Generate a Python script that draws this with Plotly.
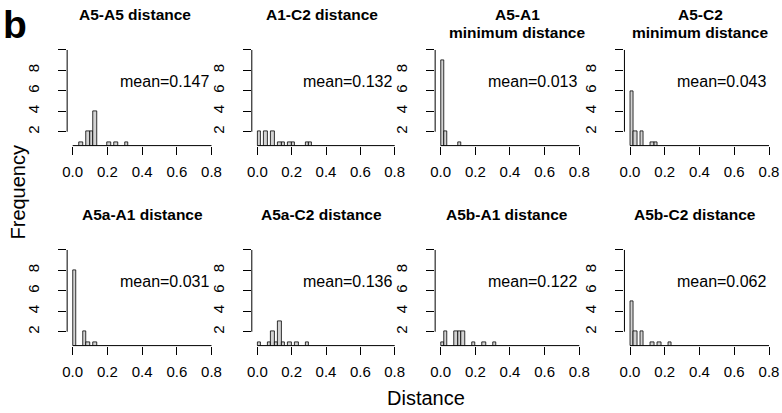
import plotly.graph_objects as go

# ---------------- data ----------------
bin_width = 0.02
x_ticks = [0.0, 0.2, 0.4, 0.6, 0.8]
x_tick_labels = ["0.0", "0.2", "0.4", "0.6", "0.8"]
y_ticks = [2, 4, 6, 8, 10]
y_tick_labels = ["2", "4", "6", "8", ""]

titles = [
    ["A5-A5 distance"],
    ["A1-C2 distance"],
    ["A5-A1", "minimum distance"],
    ["A5-C2", "minimum distance"],
    ["A5a-A1 distance"],
    ["A5a-C2 distance"],
    ["A5b-A1 distance"],
    ["A5b-C2 distance"],
]
means = ["mean=0.147", "mean=0.132", "mean=0.013", "mean=0.043",
         "mean=0.031", "mean=0.136", "mean=0.122", "mean=0.062"]

a5_a5_bins = [0.04, 0.08, 0.10, 0.12, 0.20, 0.24, 0.30]
a5_a5_counts = [1, 2, 2, 4, 1, 1, 1]
a1_c2_bins = [0.00, 0.04, 0.08, 0.12, 0.14, 0.18, 0.20, 0.28, 0.30]
a1_c2_counts = [2, 2, 2, 1, 1, 1, 1, 1, 1]
a5_a1_min_bins = [0.00, 0.02, 0.10]
a5_a1_min_counts = [9, 2, 1]
a5_c2_min_bins = [0.00, 0.02, 0.06, 0.12, 0.14]
a5_c2_min_counts = [6, 2, 2, 1, 1]
a5a_a1_bins = [0.00, 0.06, 0.08, 0.12]
a5a_a1_counts = [8, 2, 1, 1]
a5a_c2_bins = [0.00, 0.06, 0.08, 0.10, 0.12, 0.14, 0.18, 0.22, 0.28]
a5a_c2_counts = [1, 1, 2, 1, 3, 1, 1, 1, 1]
a5b_a1_bins = [0.00, 0.02, 0.08, 0.10, 0.12, 0.18, 0.24, 0.30]
a5b_a1_counts = [1, 2, 2, 2, 2, 1, 1, 1]
a5b_c2_bins = [0.00, 0.02, 0.06, 0.12, 0.16, 0.22]
a5b_c2_counts = [5, 2, 2, 1, 1, 1]

panel_bins = [a5_a5_bins, a1_c2_bins, a5_a1_min_bins, a5_c2_min_bins,
              a5a_a1_bins, a5a_c2_bins, a5b_a1_bins, a5b_c2_bins]
panel_counts = [a5_a5_counts, a1_c2_counts, a5_a1_min_counts, a5_c2_min_counts,
                a5a_a1_counts, a5a_c2_counts, a5b_a1_counts, a5b_c2_counts]

# ---------------- layout geometry (pixels) ----------------
W, H = 782, 413
x0_px = [72.7, 257.3, 440.7, 630.0]     # pixel of x=0.0 per column
x8_px = [211.5, 394.7, 579.3, 769.0]    # pixel of x=0.8 per column
row_top = [46.3, 246.3]
row_bot = [145.6, 345.6]
x_range = [-0.032, 0.832]
y_range = [0.64, 10.36]
title_x_px = [135, 321.5, 517, 700, 142.5, 321, 507, 694.7]
title_y_px = [14, 214]
title_line_gap = 19

FONT = "Liberation Sans, Arial, sans-serif"
fig = go.Figure()
annotations = []
shapes = []
layout_axes = {}

for i in range(8):
    row, col = i // 4, i % 4
    suffix = "" if i == 0 else str(i + 1)
    xn, yn = "x" + suffix, "y" + suffix
    w = x8_px[col] - x0_px[col]
    left = x0_px[col] - 0.04 * w
    right = x8_px[col] + 0.04 * w
    xdom = [left / W, right / W]
    ydom = [1 - row_bot[row] / H, 1 - row_top[row] / H]

    fig.add_trace(go.Bar(
        x=panel_bins[i], y=panel_counts[i], width=bin_width, offset=0,
        marker=dict(color="#d3d3d3", line=dict(color="black", width=0.8)),
        xaxis=xn, yaxis=yn, showlegend=False, hoverinfo="skip"))

    layout_axes["xaxis" + suffix] = dict(
        domain=xdom, range=x_range, anchor=yn,
        tickvals=x_ticks, ticktext=x_tick_labels,
        ticks="outside", ticklen=8, tickwidth=1, tickcolor="black",
        showline=False, showgrid=False, zeroline=False,
        tickfont=dict(family=FONT, size=15, color="black"),
        ticklabelstandoff=4, fixedrange=True, automargin=False)
    layout_axes["yaxis" + suffix] = dict(
        domain=ydom, range=y_range, anchor=xn,
        tickvals=y_ticks, ticktext=y_tick_labels, tickangle=-90,
        ticks="outside", ticklen=8, tickwidth=1, tickcolor="black",
        showline=False, showgrid=False, zeroline=False,
        tickfont=dict(family=FONT, size=15, color="black"),
        ticklabelstandoff=13, fixedrange=True, automargin=False)

    shapes.append(dict(type="line", xref=xn, yref=yn + " domain",
                       x0=x_ticks[0], x1=x_ticks[-1], y0=0, y1=0,
                       line=dict(color="black", width=1)))
    shapes.append(dict(type="line", xref=xn + " domain", yref=yn,
                       x0=0, x1=0, y0=y_ticks[0], y1=y_ticks[-1],
                       line=dict(color="black", width=1)))

    for k, line in enumerate(titles[i]):
        annotations.append(dict(
            xref="paper", yref="paper",
            x=title_x_px[i] / W,
            y=1 - (title_y_px[row] + k * title_line_gap) / H,
            text="<b>" + line + "</b>", showarrow=False,
            xanchor="center", yanchor="middle",
            font=dict(family=FONT, size=15.5, color="black")))

    annotations.append(dict(
        xref=xn, yref=yn, x=0.53, y=6.95, text=means[i], showarrow=False,
        xanchor="center", yanchor="middle",
        font=dict(family=FONT, size=16, color="black")))

annotations.append(dict(xref="paper", yref="paper", x=17 / W, y=1 - 192.5 / H,
                        text="Frequency", textangle=-90, showarrow=False,
                        xanchor="center", yanchor="middle",
                        font=dict(family=FONT, size=20, color="black")))
annotations.append(dict(xref="paper", yref="paper", x=426.4 / W, y=1 - 398 / H,
                        text="Distance", showarrow=False,
                        xanchor="center", yanchor="middle",
                        font=dict(family=FONT, size=20, color="black")))
annotations.append(dict(xref="paper", yref="paper", x=0.5 / W, y=1 - 24.5 / H,
                        text="<b>b</b>", showarrow=False,
                        xanchor="left", yanchor="middle",
                        font=dict(family=FONT, size=39, color="black")))

fig.update_layout(
    width=W, height=H, margin=dict(l=0, r=0, t=0, b=0, autoexpand=False),
    paper_bgcolor="white", plot_bgcolor="white",
    bargap=0, annotations=annotations, shapes=shapes,
    font=dict(family=FONT, color="black"),
    **layout_axes)

fig.write_html("out.html",
               config={"displayModeBar": False},
               post_script="document.body.style.margin='0';"
                           "document.body.style.overflow='hidden';")
